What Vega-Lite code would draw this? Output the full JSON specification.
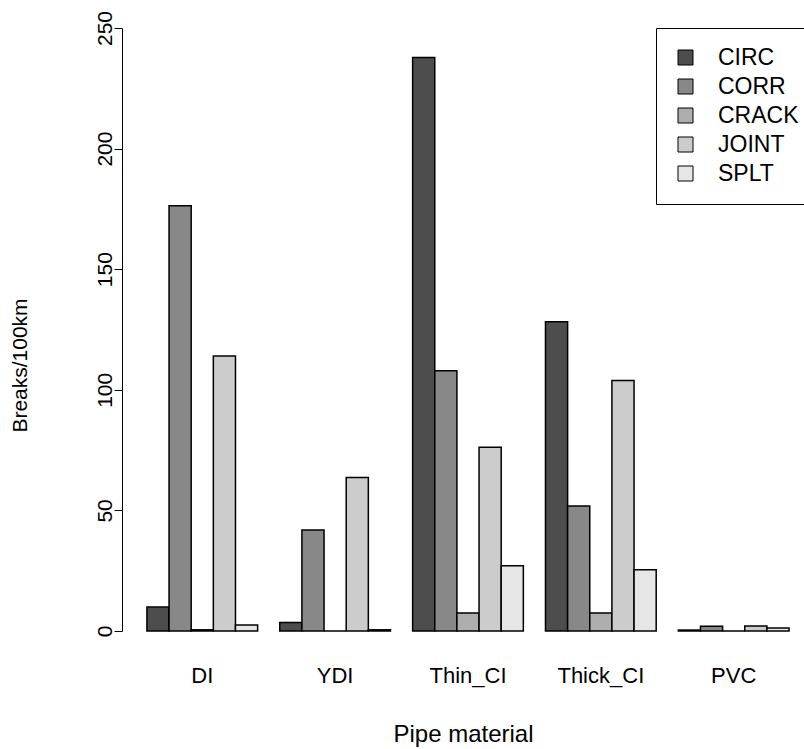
{
  "$schema": "https://vega.github.io/schema/vega-lite/v6.json",
  "autosize": "none",
  "width": 682,
  "height": 603,
  "padding": {"left": 122, "top": 28, "right": 0, "bottom": 118},
  "background": "white",
  "config": {
    "view": {"stroke": null},
    "font": "Liberation Sans",
    "axis": {"grid": false, "labelFont": "Liberation Sans", "titleFont": "Liberation Sans", "labelColor": "black", "titleColor": "black", "titleFontWeight": "normal"},
    "legend": {"labelFont": "Liberation Sans"}
  },
  "data": {
    "values": [
      {"material": "DI", "type": "CIRC", "value": 9.9},
      {"material": "DI", "type": "CORR", "value": 176.3},
      {"material": "DI", "type": "CRACK", "value": 0.5},
      {"material": "DI", "type": "JOINT", "value": 114.0},
      {"material": "DI", "type": "SPLT", "value": 2.5},
      {"material": "YDI", "type": "CIRC", "value": 3.5},
      {"material": "YDI", "type": "CORR", "value": 41.9},
      {"material": "YDI", "type": "CRACK", "value": 0},
      {"material": "YDI", "type": "JOINT", "value": 63.6},
      {"material": "YDI", "type": "SPLT", "value": 0.5},
      {"material": "Thin_CI", "type": "CIRC", "value": 237.8},
      {"material": "Thin_CI", "type": "CORR", "value": 107.9},
      {"material": "Thin_CI", "type": "CRACK", "value": 7.5},
      {"material": "Thin_CI", "type": "JOINT", "value": 76.2},
      {"material": "Thin_CI", "type": "SPLT", "value": 27.1},
      {"material": "Thick_CI", "type": "CIRC", "value": 128.2},
      {"material": "Thick_CI", "type": "CORR", "value": 51.8},
      {"material": "Thick_CI", "type": "CRACK", "value": 7.5},
      {"material": "Thick_CI", "type": "JOINT", "value": 103.9},
      {"material": "Thick_CI", "type": "SPLT", "value": 25.4},
      {"material": "PVC", "type": "CIRC", "value": 0.4},
      {"material": "PVC", "type": "CORR", "value": 2.0},
      {"material": "PVC", "type": "CRACK", "value": 0},
      {"material": "PVC", "type": "JOINT", "value": 2.1},
      {"material": "PVC", "type": "SPLT", "value": 1.2}
    ]
  },
  "mark": {"type": "bar", "stroke": "black", "strokeWidth": 1.5, "opacity": 1},
  "encoding": {
    "x": {
      "field": "material", "type": "nominal",
      "sort": ["DI", "YDI", "Thin_CI", "Thick_CI", "PVC"],
      "scale": {"paddingInner": 0.1667, "paddingOuter": 0.15, "align": 0.625},
      "axis": {"title": "Pipe material", "labelAngle": 0, "domain": false, "ticks": false, "labelFontSize": 22, "labelPadding": 34, "titleFontSize": 24, "titlePadding": 36}
    },
    "xOffset": {
      "field": "type", "type": "nominal",
      "sort": ["CIRC", "CORR", "CRACK", "JOINT", "SPLT"],
      "scale": {"paddingInner": 0, "paddingOuter": 0}
    },
    "y": {
      "field": "value", "type": "quantitative",
      "scale": {"domain": [0, 250], "nice": false, "zero": true},
      "axis": {"title": "Breaks/100km", "values": [0, 50, 100, 150, 200, 250], "tickSize": 8, "tickColor": "black", "domainColor": "black", "tickWidth": 1, "domainWidth": 1, "labelAngle": -90, "labelAlign": "center", "labelBaseline": "bottom", "labelFontSize": 21, "labelPadding": -1, "titleFontSize": 21, "titleX": -102, "titleY": 337, "titleBaseline": "middle", "titleAlign": "center", "titleAngle": -90}
    },
    "fill": {
      "field": "type", "type": "nominal",
      "sort": ["CIRC", "CORR", "CRACK", "JOINT", "SPLT"],
      "scale": {"domain": ["CIRC", "CORR", "CRACK", "JOINT", "SPLT"], "range": ["#4D4D4D", "#888888", "#AEAEAE", "#CCCCCC", "#E6E6E6"]},
      "legend": {
        "title": null, "orient": "none", "legendX": 534, "legendY": 0,
        "strokeColor": "black", "fillColor": "white", "padding": 18, "rowPadding": 5,
        "symbolType": "square", "symbolSize": 225, "symbolStrokeColor": "black", "symbolStrokeWidth": 1, "symbolOpacity": 1,
        "labelFontSize": 23, "labelOffset": 21, "labelColor": "black", "cornerRadius": 0
      }
    }
  }
}
